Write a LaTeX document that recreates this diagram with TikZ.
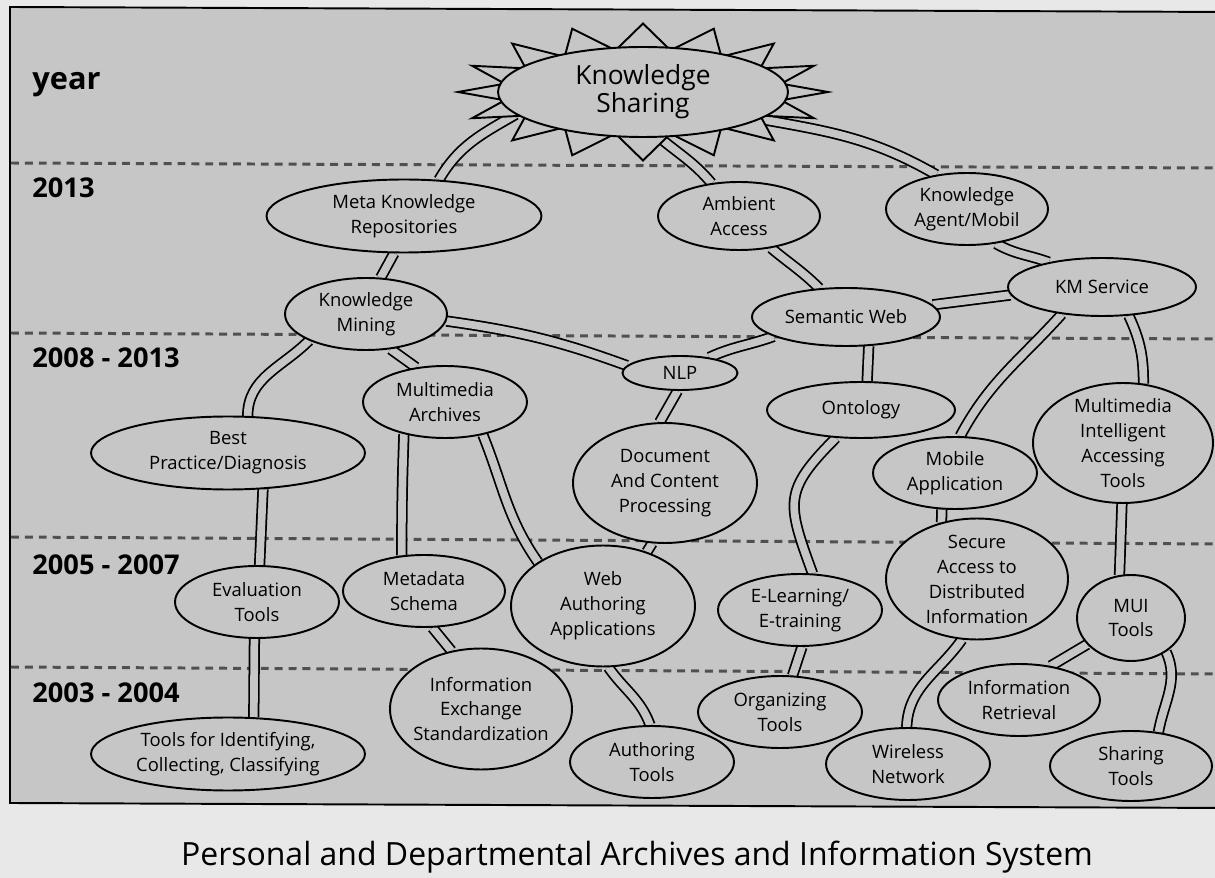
\documentclass[tikz,border=0pt]{standalone}
\usepackage{fontspec}
\setmainfont{Open Sans}
\usepackage{tikz}
\usetikzlibrary{shapes.geometric}
\definecolor{bgc}{RGB}{198,198,198}
\definecolor{outc}{RGB}{232,232,232}
\definecolor{dashc}{RGB}{80,80,80}
\pgfdeclarelayer{back}
\pgfdeclarelayer{links}
\pgfsetlayers{back,links,main}
\tikzset{
    oval_mid/.style={
        ellipse, draw=black, line width=1.1pt, fill=bgc,
        inner xsep=-4pt, inner ysep=-2pt,
        minimum width=3.24cm, minimum height=1.44cm,
        align=center, font=\fontsize{10.5}{14.2}\selectfont
    },
    oval_wide/.style={
        oval_mid, minimum width=5.48cm, minimum height=1.46cm
    },
    oval_flat/.style={
        oval_mid, minimum width=3.76cm, minimum height=1.16cm
    },
    oval_tall/.style={
        oval_mid, minimum width=3.66cm, minimum height=2.42cm, inner ysep=-5pt
    },
    oval_star/.style={
        oval_mid, minimum width=5.8cm, minimum height=1.8cm,
        font=\fontsize{15}{16}\selectfont
    },
    burst_line/.style={
        draw=black, line width=1.1pt, fill=bgc, line join=miter
    },
    link_pipe/.style={
        draw=black, line width=1pt, double=bgc, double distance=4.4pt
    },
    era_line/.style={
        draw=dashc, line width=1.7pt, dash pattern=on 4.5pt off 3.4pt
    },
    frame_line/.style={
        draw=black, line width=1.1pt
    },
    year_lbl/.style={
        anchor=base west, inner sep=0pt, font=\bfseries\fontsize{15.5}{16}\selectfont
    }
}

\begin{document}
\begin{tikzpicture}[x=0.02cm, y=0.02cm]

    \useasboundingbox (0,0) rectangle (1215,-878);

    \begin{pgfonlayer}{back}
        \fill[outc] (0,0) rectangle (1215,-878);
        \fill[bgc] (10,-7) -- (1230,-12) -- (1230,-808) -- (10,-803) -- cycle;
        \draw[frame_line] (1230,-12) -- (10,-7) -- (10,-803) -- (1230,-808);
        \foreach \ya/\yb in {163/168, 333/339, 537/544, 667/674}
            \draw[era_line] (11,-\ya) -- (1215,-\yb);
    \end{pgfonlayer}

    \node[year_lbl, font=\bfseries\fontsize{17.5}{18}\selectfont] (lyear) at (32,-90) {year};
    \node[year_lbl] (l2013) at (32,-198) {2013};
    \node[year_lbl] (l2008) at (32,-368) {2008 - 2013};
    \node[year_lbl] (l2005) at (32,-575) {2005 - 2007};
    \node[year_lbl] (l2003) at (32,-703) {2003 - 2004};

    \coordinate (kscen) at (643,-92);
    \draw[burst_line] ([shift={(0:3.7cm and 1.37cm)}]kscen)
        \foreach \k in {1,...,16} {
            -- ([shift={({\k*22.5-11.25}:2.82cm and 0.85cm)}]kscen)
            -- ([shift={({\k*22.5}:3.7cm and 1.37cm)}]kscen)
        } -- cycle;
    \node[oval_star] (ks) at (kscen) {Knowledge\\Sharing};

    \node[oval_wide, minimum width=5.5cm] (meta) at (404,-216) {Meta Knowledge\\Repositories};
    \node[oval_mid, minimum height=1.36cm] (amb) at (739,-216) {Ambient\\Access};
    \node[oval_mid] (ka) at (967,-209) {Knowledge\\Agent/Mobil};
    \node[oval_flat] (kms) at (1102,-287) {KM Service};
    \node[oval_flat] (sw) at (846,-317) {Semantic Web};
    \node[oval_mid] (km) at (366,-314) {Knowledge\\Mining};
    \node[oval_mid, minimum width=2.3cm, minimum height=0.68cm] (nlp) at (680,-373) {NLP};
    \node[oval_mid, minimum width=3.28cm] (ma) at (445,-402) {Multimedia\\Archives};
    \node[oval_flat, minimum height=1.12cm] (onto) at (861,-410) {Ontology};

    \node[oval_wide] (best) at (228,-453) {Best\\Practice/Diagnosis};
    \node[oval_tall, minimum width=3.68cm, minimum height=2.4cm] (doc) at (665,-483) {Document\\And Content\\Processing};
    \node[oval_mid, minimum width=3.28cm] (mob) at (955,-473) {Mobile\\Application};
    \node[oval_tall, minimum width=3.6cm, minimum height=2.4cm, inner ysep=-8pt] (miat) at (1123,-443) {Multimedia\\Intelligent\\Accessing\\Tools};

    \node[oval_mid, minimum width=3.28cm] (eval) at (257,-602) {Evaluation\\Tools};
    \node[oval_mid] (schema) at (424,-591) {Metadata\\Schema};
    \node[oval_tall, minimum width=3.68cm] (web) at (603,-606) {Web\\Authoring\\Applications};
    \node[oval_mid, minimum width=3.28cm] (elearn) at (800,-610) {E-Learning/\\E-training};
    \node[oval_tall, minimum width=3.64cm, inner ysep=-8pt] (secure) at (977,-579) {Secure\\Access to\\Distributed\\Information};
    \node[oval_mid, minimum width=2.16cm, minimum height=1.72cm] (mui) at (1131,-618) {MUI\\Tools};

    \node[oval_wide] (tools) at (228,-754) {Tools for Identifying,\\Collecting, Classifying};
    \node[oval_tall, minimum width=3.64cm] (ies) at (481,-709) {Information\\Exchange\\Standardization};
    \node[oval_mid, minimum width=3.28cm] (auth) at (652,-762) {Authoring\\Tools};
    \node[oval_mid, minimum width=3.28cm] (org) at (780,-712) {Organizing\\Tools};
    \node[oval_mid] (ir) at (1019,-700) {Information\\Retrieval};
    \node[oval_mid, minimum width=3.28cm] (wire) at (908,-764) {Wireless\\Network};
    \node[oval_mid, minimum height=1.4cm] (share) at (1131,-766) {Sharing\\Tools};

    \node[anchor=base, inner sep=0pt, font=\fontsize{18.2}{21}\selectfont] (caption) at (637,-866) {Personal and Departmental Archives and Information System};

    \begin{pgfonlayer}{links}
        \draw[link_pipe] (ks.190) to[out=210, in=60] (meta.46);
        \draw[link_pipe] (ks.290) to[out=-40, in=130] (amb.130);
        \draw[link_pipe] (ks.-13) to[out=-10, in=150] (ka.132);
        \draw[link_pipe] (meta.255) -- (km.68);
        \draw[link_pipe] (km.-5) to[out=-8, in=160] (nlp.172);
        \draw[link_pipe] (km.205) to[out=225, in=90] (best.62);
        \draw[link_pipe] (km.305) -- (ma.130);
        \draw[link_pipe] (nlp.28) to[out=25, in=200] (sw.195);
        \draw[link_pipe] (nlp.262) -- (doc.95);
        \draw[link_pipe] (amb.-45) to[out=-40, in=135] (sw.133);
        \draw[link_pipe] (ka.-50) to[out=-30, in=160] (kms.155);
        \draw[link_pipe] (sw.8) -- (kms.185);
        \draw[link_pipe] (sw.-52) -- (onto.78);
        \draw[link_pipe] (kms.214) to[out=228, in=62] (mob.82);
        \draw[link_pipe] (kms.-47) to[out=-65, in=90] (miat.71);
        \draw[link_pipe] (ma.218) to[out=268, in=90] (schema.122);
        \draw[link_pipe] (ma.-41) to[out=-68, in=125] (web.146);
        \draw[link_pipe] (best.-46) -- (eval.86);
        \draw[link_pipe] (eval.266) -- (tools.55);
        \draw[link_pipe] (schema.-77) -- (ies.117);
        \draw[link_pipe] (doc.258) -- (web.51);
        \draw[link_pipe] (web.-85) to[out=-55, in=110] (auth.93);
        \draw[link_pipe] (onto.228) to[out=-135, in=110, looseness=1.4] (elearn.71);
        \draw[link_pipe] (elearn.-87) -- (org.71);
        \draw[link_pipe] (mob.250) -- (secure.122);
        \draw[link_pipe] (secure.256) to[out=-125, in=88] (wire.92);
        \draw[link_pipe] (miat.269) -- (mui.105);
        \draw[link_pipe] (mui.211) -- (ir.47);
        \draw[link_pipe] (mui.-44) to[out=-65, in=80] (share.51);
    \end{pgfonlayer}

\end{tikzpicture}
\end{document}
